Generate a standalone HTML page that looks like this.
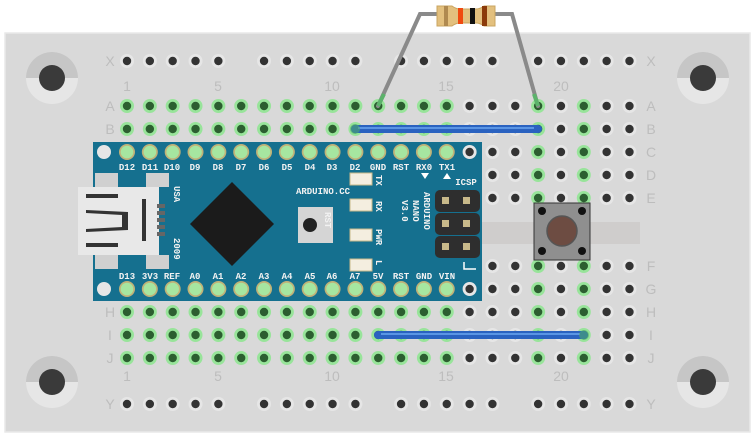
<!DOCTYPE html>
<html><head><meta charset="utf-8"><style>
html,body{margin:0;padding:0;background:#fff;width:756px;height:443px;overflow:hidden}
svg{display:block}
.lbl{font-family:"Liberation Sans",sans-serif;font-size:14px;fill:#bdbdbd}
.pin{font-family:"Liberation Mono",monospace;font-size:9px;fill:#f2f2f2;font-weight:bold}
</style></head><body>
<svg id="s" width="756" height="443" viewBox="0 0 756 443" xmlns="http://www.w3.org/2000/svg">
<rect x="5" y="33" width="745" height="399" fill="#d9d9d9" stroke="#e9e9e9" stroke-width="1.5"/>
<g id="mh"></g>
<rect x="93" y="222" width="547" height="22" fill="#cfcdcc"/>
<g id="holes"></g>
<g class="lbl" text-anchor="middle">
<text x="110" y="66">X</text><text x="651" y="66">X</text>
<text x="110" y="409">Y</text><text x="651" y="409">Y</text>
<text x="127" y="91">1</text><text x="218" y="91">5</text><text x="332" y="91">10</text><text x="446" y="91">15</text><text x="561" y="91">20</text>
<text x="127" y="381">1</text><text x="218" y="381">5</text><text x="332" y="381">10</text><text x="446" y="381">15</text><text x="561" y="381">20</text>
<text x="110" y="111">A</text><text x="651" y="111">A</text>
<text x="110" y="134">B</text><text x="651" y="134">B</text>
<text x="651" y="157">C</text><text x="651" y="180">D</text><text x="651" y="203">E</text>
<text x="651" y="271">F</text><text x="651" y="294">G</text>
<text x="110" y="317">H</text><text x="651" y="317">H</text>
<text x="110" y="340">I</text><text x="651" y="340">I</text>
<text x="110" y="363">J</text><text x="651" y="363">J</text>
</g>
<rect x="93" y="142" width="389" height="159" fill="#15708f"/>
<g fill="#d0d0d0">
<rect x="95" y="173" width="23" height="14"/><rect x="146" y="173" width="23" height="14"/>
<rect x="95" y="255" width="23" height="14"/><rect x="146" y="255" width="23" height="14"/>
</g>
<rect x="78" y="187" width="81" height="68" fill="#e8e8e8"/>
<g fill="#333">
<rect x="86" y="194" width="32" height="4"/><rect x="86" y="243" width="32" height="4"/>
<polygon points="86,210 128,212 128,230 86,232 86,229 122,227 122,215 86,213"/>
<rect x="142" y="199" width="4" height="42"/>
<rect x="157" y="204" width="8" height="4" fill="#666"/><rect x="157" y="211" width="8" height="4" fill="#666"/><rect x="157" y="218" width="8" height="4" fill="#666"/><rect x="157" y="225" width="8" height="4" fill="#666"/><rect x="157" y="232" width="8" height="4" fill="#666"/>
</g>
<polygon points="232,182 274,224 232,266 190,224" fill="#1b1b1b"/>
<rect x="298" y="207" width="35" height="36" fill="#d5d5d5"/>
<circle cx="310" cy="225" r="7" fill="#222"/>
<g fill="#f4eee0" stroke="#c9b98a">
<rect x="350" y="173" width="22" height="12"/><rect x="350" y="199" width="22" height="12"/>
<rect x="350" y="229" width="22" height="12"/><rect x="350" y="259" width="22" height="12"/>
</g>
<g fill="#2e2e2e">
<rect x="435" y="190" width="45" height="22" rx="5"/><rect x="435" y="213" width="45" height="22" rx="5"/><rect x="435" y="236" width="45" height="22" rx="5"/>
</g>
<g fill="#c8b98a">
<rect x="442" y="197" width="7" height="7"/><rect x="463" y="197" width="7" height="7"/>
<rect x="442" y="220" width="7" height="7"/><rect x="463" y="220" width="7" height="7"/>
<rect x="442" y="243" width="7" height="7"/><rect x="463" y="243" width="7" height="7"/>
</g>
<circle cx="104" cy="152" r="7" fill="#e6e6e6"/><circle cx="104" cy="289" r="7" fill="#e6e6e6"/>
<g class="pin" text-anchor="middle">
<text x="127" y="170">D12</text><text x="150" y="170">D11</text><text x="172" y="170">D10</text><text x="195" y="170">D9</text><text x="218" y="170">D8</text><text x="241" y="170">D7</text><text x="264" y="170">D6</text><text x="287" y="170">D5</text><text x="310" y="170">D4</text><text x="332" y="170">D3</text><text x="355" y="170">D2</text><text x="378" y="170">GND</text><text x="401" y="170">RST</text><text x="424" y="170">RX0</text><text x="447" y="170">TX1</text>
<text x="127" y="279">D13</text><text x="150" y="279">3V3</text><text x="172" y="279">REF</text><text x="195" y="279">A0</text><text x="218" y="279">A1</text><text x="241" y="279">A2</text><text x="264" y="279">A3</text><text x="287" y="279">A4</text><text x="310" y="279">A5</text><text x="332" y="279">A6</text><text x="355" y="279">A7</text><text x="378" y="279">5V</text><text x="401" y="279">RST</text><text x="424" y="279">GND</text><text x="447" y="279">VIN</text>
<text x="323" y="194">ARDUINO.CC</text>
<text x="466" y="185">ICSP</text>
</g>
<g class="pin">
<text transform="translate(174,186) rotate(90)">USA</text>
<text transform="translate(174,238) rotate(90)">2009</text>
<text transform="translate(376,175) rotate(90)">TX</text>
<text transform="translate(376,201) rotate(90)">RX</text>
<text transform="translate(376,229) rotate(90)">PWR</text>
<text transform="translate(376,260) rotate(90)">L</text>
<text transform="translate(325,212) rotate(90)">RST</text>
<text transform="translate(424,192) rotate(90)">ARDUINO</text>
<text transform="translate(413,200) rotate(90)">NANO</text>
<text transform="translate(402,200) rotate(90)">V3.0</text>
</g>
<polygon points="421,173 429,173 425,179" fill="#fff"/><polygon points="443,179 451,179 447,173" fill="#fff"/>
<path d="M464 262v7h12" stroke="#fff" stroke-width="1.5" fill="none"/>
<g id="pins"></g>
<line x1="355" y1="129" x2="538" y2="129" stroke="#2a62c0" stroke-width="8" stroke-linecap="round"/>
<line x1="358" y1="128" x2="534" y2="128" stroke="#5a95e4" stroke-width="2"/>
<circle cx="355" cy="129" r="5" fill="#4ca86a" opacity=".6"/>
<line x1="378" y1="335" x2="584" y2="335" stroke="#2a62c0" stroke-width="8" stroke-linecap="round"/>
<line x1="381" y1="334" x2="580" y2="334" stroke="#5a95e4" stroke-width="2"/>
<circle cx="584" cy="335" r="5" fill="#4ca86a" opacity=".6"/>
<rect x="534" y="203" width="56" height="57" fill="#8f8f8f" stroke="#333" stroke-width="1"/>
<circle cx="542" cy="211" r="4" fill="#111"/><circle cx="582" cy="211" r="4" fill="#111"/>
<circle cx="542" cy="251" r="4" fill="#111"/><circle cx="582" cy="251" r="4" fill="#111"/>
<circle cx="562" cy="231" r="15" fill="#6d4c42" stroke="#555" stroke-width="1.5"/>
<polyline points="378,106 420,14 437,14" fill="none" stroke="#8a8a8a" stroke-width="4" stroke-linecap="round"/>
<polyline points="495,14 512,14 538,106" fill="none" stroke="#8a8a8a" stroke-width="4" stroke-linecap="round"/>
<line x1="378" y1="106" x2="384" y2="94" stroke="#5cb36b" stroke-width="4"/>
<line x1="538" y1="106" x2="534" y2="94" stroke="#5cb36b" stroke-width="4"/>
<path d="M437 6h15q4 3 8 3h16q4 0 8 -3h11v20h-11q-4 -3 -8 -3h-16q-4 0 -8 3h-15z" fill="#e3c07e" stroke="#caa560"/>
<rect x="444" y="6" width="4" height="20" fill="#b08a50"/>
<rect x="458" y="8" width="5" height="16" fill="#f04a10"/>
<rect x="470" y="8" width="5" height="16" fill="#111"/>
<rect x="482" y="6" width="5" height="20" fill="#8b3a0a"/>
</svg>
<script>
var NS="http://www.w3.org/2000/svg";
function c(g,x,y,r,f){var e=document.createElementNS(NS,"circle");e.setAttribute("cx",x);e.setAttribute("cy",y);e.setAttribute("r",r);e.setAttribute("fill",f);g.appendChild(e);}
var H=document.getElementById("holes"),P=document.getElementById("pins"),M=document.getElementById("mh");
function cx(i){return 127+(i-1)*22.84;}
var rows={A:106,B:129,C:152,D:175,E:198,F:266,G:289,H:312,I:335,J:358};
for(var k in rows){for(var i=1;i<=23;i++){var y=rows[k];
 var green=(i<=15&&"ABHIJ".indexOf(k)>=0)||i==19||i==21;
 if(green){c(H,cx(i),y,7,"#98e49a");c(H,cx(i),y,4.2,"#2c5e30");}
 else{c(H,cx(i),y,7,"#e6e6e6");c(H,cx(i),y,4.2,"#333");}}}
[61,404].forEach(function(y){for(var i=1;i<=23;i++){if(i%6==0)continue;c(H,cx(i),y,7,"#e6e6e6");c(H,cx(i),y,4.2,"#333");}});
[152,289].forEach(function(y){for(var i=1;i<=15;i++){c(P,cx(i),y,8,"#c0b278");c(P,cx(i),y,6.3,"#a6e6a0");}
 c(P,cx(16),y,7,"#e6e6e6");c(P,cx(16),y,4.2,"#333");});
[[52,78],[52,382],[703,78],[703,382]].forEach(function(p){
 c(M,p[0],p[1],26,"#e6e6e6");
 var e=document.createElementNS(NS,"path");e.setAttribute("d","M"+(p[0]-26)+" "+p[1]+"a26 26 0 0 1 52 0z");e.setAttribute("fill","#c6c6c6");M.appendChild(e);
 c(M,p[0],p[1],13,"#3a3a3a");});
</script>
</body></html>
